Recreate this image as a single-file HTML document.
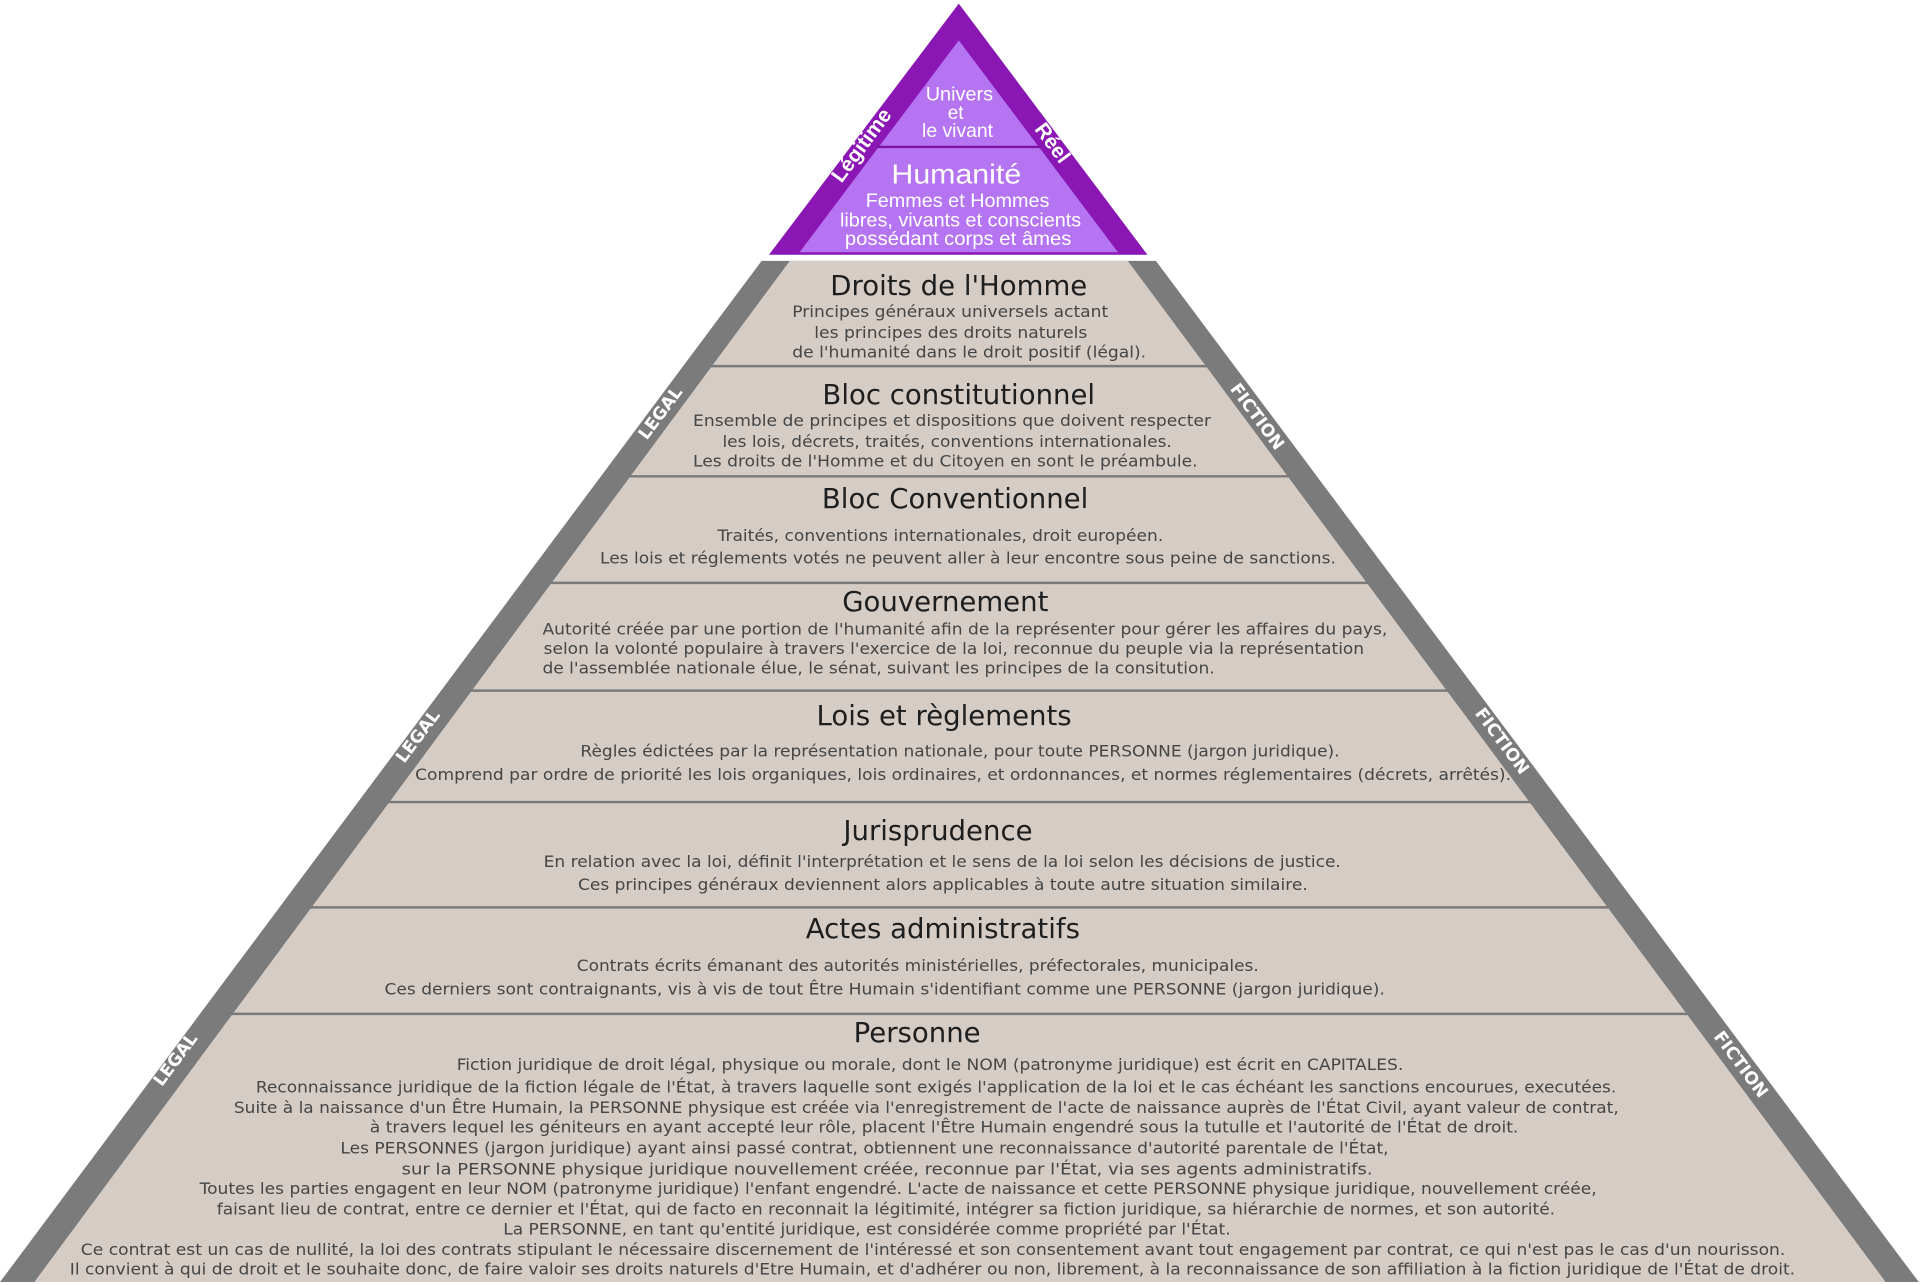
<!DOCTYPE html>
<html><head><meta charset="utf-8"><style>
html,body{margin:0;padding:0;background:#fff;}
svg{display:block;}
.t{font-family:"DejaVu Sans","Liberation Sans",sans-serif;font-size:22.5px;fill:#1e1e1e;text-anchor:middle;}
.b{font-family:"DejaVu Sans","Liberation Sans",sans-serif;font-size:13px;fill:#454545;}
.s{font-family:"DejaVu Sans","Liberation Sans",sans-serif;font-size:14px;font-weight:bold;fill:#fff;text-anchor:middle;}
.p{font-family:"Liberation Sans",sans-serif;fill:#fff;}
</style></head><body>
<svg width="1920" height="1285" viewBox="0 0 1568 1049.4" preserveAspectRatio="none" xmlns="http://www.w3.org/2000/svg">
<rect width="1568" height="1050" fill="#fff"/>
<!-- purple -->
<polygon points="783,3 937,208 628,208" fill="#8a16b3"/>
<polygon points="783,33 913,206 653,206" fill="#b574f2"/>
<line x1="716" y1="120" x2="850" y2="120" stroke="#7d14a6" stroke-width="2"/>
<text class="p" font-size="15.5" x="756" y="82" textLength="55" lengthAdjust="spacingAndGlyphs">Univers</text>
<text class="p" font-size="15.5" x="774" y="97">et</text>
<text class="p" font-size="15.5" x="753" y="112" textLength="58" lengthAdjust="spacingAndGlyphs">le vivant</text>
<text class="p" font-size="23" x="728" y="150" textLength="106" lengthAdjust="spacingAndGlyphs">Humanité</text>
<text class="p" font-size="15.5" x="707" y="169" textLength="150" lengthAdjust="spacingAndGlyphs">Femmes et Hommes</text>
<text class="p" font-size="15.5" x="686" y="185" textLength="197" lengthAdjust="spacingAndGlyphs">libres, vivants et conscients</text>
<text class="p" font-size="15.5" x="690" y="200" textLength="185" lengthAdjust="spacingAndGlyphs">possédant corps et âmes</text>
<text class="p" font-size="17" font-weight="bold" text-anchor="middle" transform="translate(708,122) rotate(-53.5)">Légitime</text>
<text class="p" font-size="17" font-weight="bold" text-anchor="middle" transform="translate(855,120) rotate(53.5)">Réel</text>
<!-- gray -->
<polygon points="622,213 944,213 1567,1047 0,1047" fill="#7b7b7b"/>
<polygon points="645,213 921,213 1540,1047 28,1047" fill="#d5ccc6"/>
<g stroke="#7a7a7a" stroke-width="2">
<line x1="580" y1="299" x2="987" y2="299"/>
<line x1="513" y1="389" x2="1054" y2="389"/>
<line x1="448" y1="476" x2="1119" y2="476"/>
<line x1="383" y1="564" x2="1184" y2="564"/>
<line x1="315" y1="655" x2="1252" y2="655"/>
<line x1="251" y1="741" x2="1316" y2="741"/>
<line x1="186" y1="828" x2="1380" y2="828"/>
</g>
<text class="s" transform="translate(543,340) rotate(-53.3)">LEGAL</text>
<text class="s" transform="translate(345,604) rotate(-53.3)">LEGAL</text>
<text class="s" transform="translate(147,868) rotate(-53.3)">LEGAL</text>
<text class="s" transform="translate(1023,343) rotate(53.3)">FICTION</text>
<text class="s" transform="translate(1223,608) rotate(53.3)">FICTION</text>
<text class="s" transform="translate(1418,872) rotate(53.3)">FICTION</text>

<text class="t" x="783" y="241">Droits de l'Homme</text>
<text class="b" x="647" y="259" textLength="258" lengthAdjust="spacingAndGlyphs">Principes généraux universels actant</text>
<text class="b" x="665" y="276" textLength="223" lengthAdjust="spacingAndGlyphs">les principes des droits naturels</text>
<text class="b" x="647" y="292" textLength="289" lengthAdjust="spacingAndGlyphs">de l'humanité dans le droit positif (légal).</text>

<text class="t" x="783" y="330">Bloc constitutionnel</text>
<text class="b" x="566" y="348" textLength="423" lengthAdjust="spacingAndGlyphs">Ensemble de principes et dispositions que doivent respecter</text>
<text class="b" x="590" y="365" textLength="367" lengthAdjust="spacingAndGlyphs">les lois, décrets, traités, conventions internationales.</text>
<text class="b" x="566" y="381" textLength="412" lengthAdjust="spacingAndGlyphs">Les droits de l'Homme et du Citoyen en sont le préambule.</text>

<text class="t" x="780" y="415">Bloc Conventionnel</text>
<text class="b" x="586" y="442" textLength="364" lengthAdjust="spacingAndGlyphs">Traités, conventions internationales, droit européen.</text>
<text class="b" x="490" y="460" textLength="601" lengthAdjust="spacingAndGlyphs">Les lois et réglements votés ne peuvent aller à leur encontre sous peine de sanctions.</text>

<text class="t" x="772" y="499">Gouvernement</text>
<text class="b" x="443" y="518" textLength="690" lengthAdjust="spacingAndGlyphs">Autorité créée par une portion de l'humanité afin de la représenter pour gérer les affaires du pays,</text>
<text class="b" x="444" y="534" textLength="670" lengthAdjust="spacingAndGlyphs">selon la volonté populaire à travers l'exercice de la loi, reconnue du peuple via la représentation</text>
<text class="b" x="443" y="550" textLength="549" lengthAdjust="spacingAndGlyphs">de l'assemblée nationale élue, le sénat, suivant les principes de la consitution.</text>

<text class="t" x="771" y="592">Lois et règlements</text>
<text class="b" x="474" y="618" textLength="620" lengthAdjust="spacingAndGlyphs">Règles édictées par la représentation nationale, pour toute PERSONNE (jargon juridique).</text>
<text class="b" x="339" y="637" textLength="895" lengthAdjust="spacingAndGlyphs">Comprend par ordre de priorité les lois organiques, lois ordinaires, et ordonnances, et normes réglementaires (décrets, arrêtés).</text>

<text class="t" x="766" y="686">Jurisprudence</text>
<text class="b" x="444" y="708" textLength="651" lengthAdjust="spacingAndGlyphs">En relation avec la loi, définit l'interprétation et le sens de la loi selon les décisions de justice.</text>
<text class="b" x="472" y="727" textLength="596" lengthAdjust="spacingAndGlyphs">Ces principes généraux deviennent alors applicables à toute autre situation similaire.</text>

<text class="t" x="770" y="766">Actes administratifs</text>
<text class="b" x="471" y="793" textLength="557" lengthAdjust="spacingAndGlyphs">Contrats écrits émanant des autorités ministérielles, préfectorales, municipales.</text>
<text class="b" x="314" y="812" textLength="817" lengthAdjust="spacingAndGlyphs">Ces derniers sont contraignants, vis à vis de tout Être Humain s'identifiant comme une PERSONNE (jargon juridique).</text>

<text class="t" x="749" y="851">Personne</text>
<text class="b" x="373" y="874" textLength="773" lengthAdjust="spacingAndGlyphs">Fiction juridique de droit légal, physique ou morale, dont le NOM (patronyme juridique) est écrit en CAPITALES.</text>
<text class="b" x="209" y="892" textLength="1111" lengthAdjust="spacingAndGlyphs">Reconnaissance juridique de la fiction légale de l'État, à travers laquelle sont exigés l'application de la loi et le cas échéant les sanctions encourues, executées.</text>
<text class="b" x="191" y="909" textLength="1131" lengthAdjust="spacingAndGlyphs">Suite à la naissance d'un Être Humain, la PERSONNE physique est créée via l'enregistrement de l'acte de naissance auprès de l'État Civil, ayant valeur de contrat,</text>
<text class="b" x="302" y="925" textLength="938" lengthAdjust="spacingAndGlyphs">à travers lequel  les géniteurs en ayant accepté leur rôle, placent l'Être Humain engendré sous la tutulle et l'autorité de l'État de droit.</text>
<text class="b" x="278" y="942" textLength="856" lengthAdjust="spacingAndGlyphs">Les PERSONNES (jargon juridique) ayant ainsi passé contrat, obtiennent une reconnaissance d'autorité parentale de l'État,</text>
<text class="b" x="328" y="959" textLength="793" lengthAdjust="spacingAndGlyphs">sur la PERSONNE physique juridique nouvellement créée, reconnue par l'État, via ses agents administratifs.</text>
<text class="b" x="163" y="975" textLength="1141" lengthAdjust="spacingAndGlyphs">Toutes les parties engagent en leur NOM (patronyme juridique) l'enfant engendré. L'acte de naissance et cette PERSONNE physique juridique, nouvellement créée,</text>
<text class="b" x="177" y="992" textLength="1093" lengthAdjust="spacingAndGlyphs">faisant lieu de contrat, entre ce dernier et l'État, qui de facto en reconnait la légitimité, intégrer sa fiction juridique, sa hiérarchie de normes, et son autorité.</text>
<text class="b" x="411" y="1008" textLength="594" lengthAdjust="spacingAndGlyphs">La PERSONNE, en tant qu'entité juridique, est considérée comme propriété par l'État.</text>
<text class="b" x="66" y="1025" textLength="1392" lengthAdjust="spacingAndGlyphs">Ce contrat est un cas de nullité, la loi des contrats stipulant le nécessaire discernement de l'intéressé et son consentement avant tout engagement par contrat, ce qui n'est pas le cas d'un nourisson.</text>
<text class="b" x="57" y="1041" textLength="1409" lengthAdjust="spacingAndGlyphs">Il convient à qui de droit et le souhaite donc, de faire valoir ses droits naturels d'Etre Humain, et d'adhérer ou non, librement, à la reconnaissance de son affiliation à la fiction juridique de l'État de droit.</text>
</svg>
</body></html>
